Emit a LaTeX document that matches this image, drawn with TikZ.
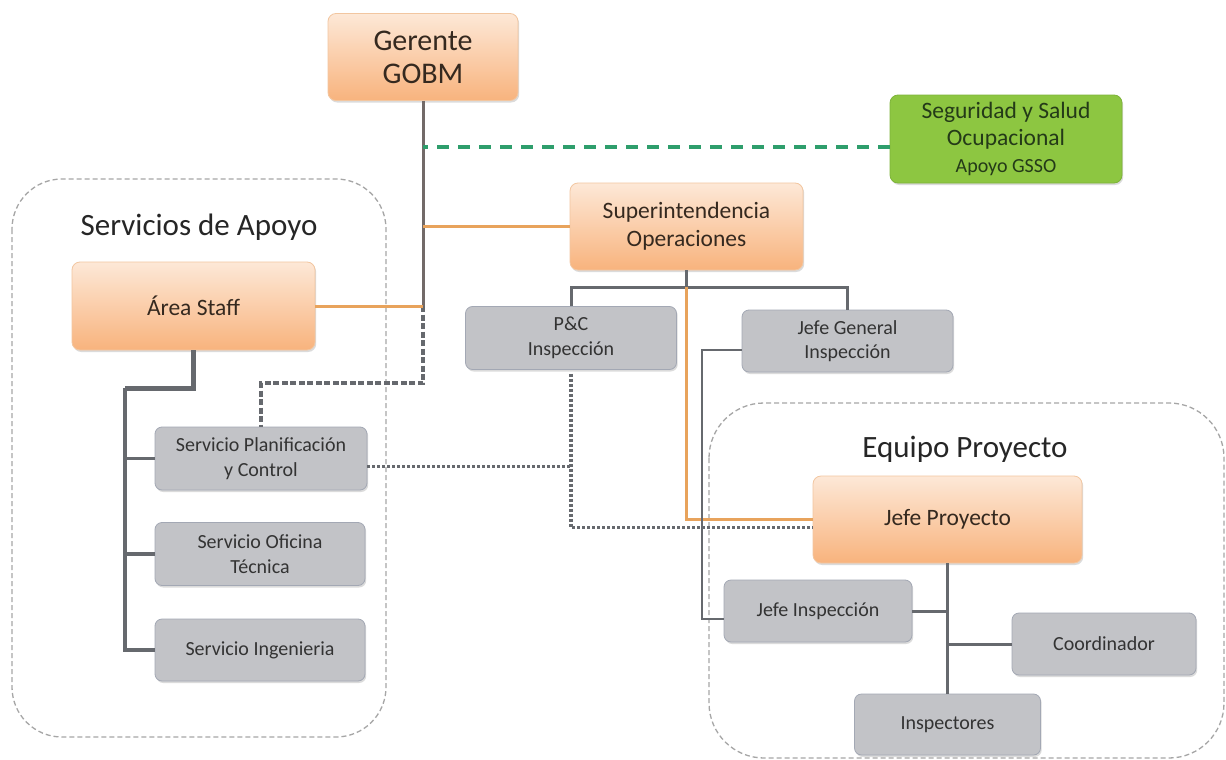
\documentclass[tikz,border=0pt]{standalone}
\usepackage{fontspec}
\setmainfont{Carlito}
\usetikzlibrary{shadows}
\definecolor{oTop}{HTML}{FDE8D7}
\definecolor{oBot}{HTML}{F8B37D}
\definecolor{oBrd}{HTML}{F2C6A0}
\definecolor{gFill}{HTML}{C2C3C7}
\definecolor{gBrd}{HTML}{A3A8B4}
\definecolor{grFill}{HTML}{8DC641}
\definecolor{grBrd}{HTML}{7DB339}
\definecolor{txtO}{HTML}{35291F}
\definecolor{txtG}{HTML}{333333}
\definecolor{txtGr}{HTML}{243A18}
\definecolor{lnGray}{HTML}{726A68}
\definecolor{lnGray2}{HTML}{66696E}
\definecolor{lnOr}{HTML}{E8A35C}
\definecolor{lnGreen}{HTML}{2E9E6C}
\definecolor{contC}{HTML}{A6A6A6}
\tikzset{
  shd/.style={drop shadow={opacity=0.28, shadow xshift=1.2pt, shadow yshift=-2pt}},
  obox/.style={shd, rounded corners=8pt, draw=oBrd, line width=0.8pt, top color=oTop, bottom color=oBot,
    align=center, text=txtO, inner sep=0pt, font=\fontsize{23.5}{28}\selectfont},
  gbox/.style={shd, rounded corners=7pt, draw=gBrd, line width=0.8pt, fill=gFill,
    align=center, text=txtG, inner sep=0pt, font=\fontsize{20}{24.5}\selectfont},
  grbox/.style={shd, rounded corners=8pt, draw=grBrd, line width=0.8pt, fill=grFill,
    align=center, text=txtGr, inner sep=0pt, font=\fontsize{23.5}{27}\selectfont},
  ctitle/.style={anchor=base, text=black!85, inner sep=0pt, font=\fontsize{31}{36}\selectfont},
  cont/.style={draw=contC, line width=1.3pt, dash pattern=on 5pt off 3pt},
  gln/.style={draw=lnGray, line width=3pt},
  gln2/.style={draw=lnGray2, line width=3pt},
  gthick/.style={draw=lnGray2, line width=5pt},
  gmid/.style={draw=lnGray2, line width=3.5pt},
  gthin/.style={draw=lnGray2, line width=2pt},
  oln/.style={draw=lnOr, line width=3pt},
  gdash/.style={draw=lnGray2, line width=3.6pt, dash pattern=on 6pt off 2.5pt},
  dotl/.style={draw=lnGray2, line width=3.6pt, dash pattern=on 3pt off 2pt},
  greendash/.style={draw=lnGreen, line width=3.5pt, dash pattern=on 12pt off 9pt},
}
\begin{document}
\begin{tikzpicture}[x=1pt,y=-1pt]
\useasboundingbox (0,0) rectangle (1226,760);
\fill[white] (0,0) rectangle (1226,760);
% containers
\draw[cont, rounded corners=50pt] (12,179) rectangle (386,737);
\draw[cont, rounded corners=55pt] (709,403) rectangle (1224,758);
\node[ctitle] (tsa) at (199,235) {Servicios de Apoyo};
\node[ctitle] (teq) at (965,457) {Equipo Proyecto};
% nodes
\node[obox, minimum width=190pt, minimum height=87pt, font=\fontsize{30}{33}\selectfont] (ger) at (423,57) {Gerente\\GOBM};
\node[grbox, minimum width=232pt, minimum height=88pt] (green) at (1006,139) {Seguridad y Salud\\Ocupacional\\{\fontsize{20}{27}\selectfont Apoyo GSSO}};
\node[obox, minimum width=233pt, minimum height=87pt] (sup) at (686.5,226.5) {Superintendencia\\Operaciones};
\node[obox, minimum width=243pt, minimum height=88pt] (staff) at (193.5,306) {Área Staff};
\node[gbox, minimum width=211pt, minimum height=63pt] (pc) at (571,338) {P\&C\\Inspección};
\node[gbox, minimum width=211pt, minimum height=62pt] (jg) at (847.5,341) {Jefe General\\Inspección};
\node[gbox, minimum width=212pt, minimum height=63pt] (spc) at (261,458.5) {Servicio Planificación\\y Control};
\node[gbox, minimum width=210pt, minimum height=63pt] (sot) at (260,554) {Servicio Oficina\\Técnica};
\node[gbox, minimum width=210pt, minimum height=62pt] (sin) at (260,650) {Servicio Ingenieria};
\node[obox, minimum width=269pt, minimum height=87pt] (jp) at (947.5,519.5) {Jefe Proyecto};
\node[gbox, minimum width=188pt, minimum height=62pt] (ji) at (818,611) {Jefe Inspección};
\node[gbox, minimum width=184pt, minimum height=62pt] (coord) at (1104,644) {Coordinador};
\node[gbox, minimum width=186pt, minimum height=61pt] (insp) at (947.5,724.5) {Inspectores};
% connectors from Gerente
\coordinate (g1) at (ger.south |- staff.east);
\coordinate (d1) at (ger.south |- 0,383);
\draw[gln] (ger.south) -- (g1);
\draw[gdash] (g1) -- (d1) -| (spc.north);
\draw[oln] (sup.west) -- (sup.west -| ger.south);
\draw[oln] (staff.east) -- (g1);
\draw[greendash] ([yshift=-8pt]green.west) -- ([yshift=-8pt]green.west -| ger.south);
% Area staff tree
\coordinate (s1) at (125,388);
\draw[gthick] (staff.south) |- (s1);
\draw[gmid] (s1) |- (sin.west);
\draw[gmid] (s1 |- spc.west) -- (spc.west);
\draw[gmid] (s1 |- sot.west) -- (sot.west);
% Superintendencia tree
\coordinate (t1) at (sup.south |- 0,287);
\draw[gln2] (sup.south) -- (t1);
\draw[gln2] (pc.north) |- (t1) -| (jg.north);
\draw[oln] (t1) |- (jp.west);
\draw[gthin] ([yshift=-9pt]jg.west) -- ++(-40,0) |- ([yshift=-8pt]ji.west);
\draw[dotl] ([yshift=-4pt]pc.south) |- ([yshift=-8pt]jp.west);
\draw[dotl] ([yshift=-8pt]spc.east) -- ([yshift=-8pt]spc.east -| pc.south);
% Jefe Proyecto tree
\draw[gln2] (jp.south) -- (insp.north);
\draw[gln2] (ji.east) -- (ji.east -| jp.south);
\draw[gln2] (coord.west) -- (coord.west -| jp.south);
\end{tikzpicture}
\end{document}
